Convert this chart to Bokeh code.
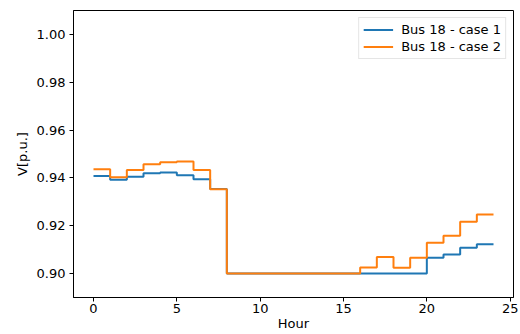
from bokeh.plotting import figure
from bokeh.models import Range1d, FixedTicker, Legend, LegendItem, CustomJSTickFormatter
from bokeh.embed import file_html
from bokeh.resources import INLINE

hours = [0, 1, 2, 3, 4, 5, 6, 7, 8, 9, 10, 11, 12, 13, 14, 15, 16, 17, 18, 19, 20, 21, 22, 23, 24]
case1 = [0.9408, 0.9392, 0.9405, 0.9419, 0.9423, 0.9411, 0.9394, 0.9354,
         0.900, 0.900, 0.900, 0.900, 0.900, 0.900, 0.900, 0.900,
         0.900, 0.900, 0.900, 0.900,
         0.9066, 0.9080, 0.9108, 0.9123, 0.9123]
case2 = [0.9436, 0.9403, 0.9433, 0.9457, 0.9466, 0.9469, 0.9433, 0.9353,
         0.900, 0.900, 0.900, 0.900, 0.900, 0.900, 0.900, 0.900,
         0.9025, 0.9069, 0.9024, 0.9066,
         0.9129, 0.9158, 0.9217, 0.9247, 0.9247]
series_labels = ["Bus 18 - case 1", "Bus 18 - case 2"]
x_ticks = [0, 5, 10, 15, 20, 25]
y_ticks = [0.90, 0.92, 0.94, 0.96, 0.98, 1.00]
x_label = "Hour"
y_label = "V[p.u.]"

FONT = "DejaVu Sans"
FS = "13px"

p = figure(width=520, height=334, output_backend="svg", toolbar_location=None,
           x_range=Range1d(-1.2, 25.2), y_range=Range1d(0.89, 1.01),
           min_border_left=73, min_border_right=7, min_border_top=10, min_border_bottom=37)
p.background_fill_color = "white"
p.border_fill_color = "white"
p.outline_line_color = "black"
p.outline_line_width = 1
p.xgrid.visible = False
p.ygrid.visible = False

r1 = p.step(hours, case1, mode="after", line_color="#1f77b4", line_width=2)
r2 = p.step(hours, case2, mode="after", line_color="#ff7f0e", line_width=2)

for ax in (p.xaxis[0], p.yaxis[0]):
    ax.axis_line_color = "black"
    ax.major_tick_line_color = "black"
    ax.major_tick_out = 4
    ax.major_tick_in = 0
    ax.minor_tick_line_color = None
    ax.major_label_text_font = FONT
    ax.major_label_text_font_size = FS
    ax.major_label_text_color = "black"
    ax.axis_label_text_font = FONT
    ax.axis_label_text_font_size = FS
    ax.axis_label_text_font_style = "normal"
    ax.axis_label_text_color = "black"

p.xaxis.ticker = FixedTicker(ticks=x_ticks)
p.xaxis.major_label_standoff = 2
p.xaxis.axis_label = x_label
p.xaxis.axis_label_standoff = 0
p.yaxis.ticker = FixedTicker(ticks=y_ticks)
p.yaxis.formatter = CustomJSTickFormatter(code="return tick.toFixed(2);")
p.yaxis.major_label_standoff = 4
p.yaxis.axis_label = y_label
p.yaxis.axis_label_standoff = 4

legend = Legend(items=[LegendItem(label=series_labels[0], renderers=[r1]),
                       LegendItem(label=series_labels[1], renderers=[r2])],
                location="top_right")
legend.margin = 7
legend.padding = 4
legend.spacing = 2
legend.glyph_width = 30
legend.glyph_height = 15
legend.label_standoff = 8
legend.label_text_font = FONT
legend.label_text_font_size = FS
legend.label_text_color = "black"
legend.border_line_color = "#cccccc"
legend.border_line_width = 1
legend.background_fill_alpha = 0.8
p.add_layout(legend)

open("out.html", "w").write(file_html(p, INLINE))
